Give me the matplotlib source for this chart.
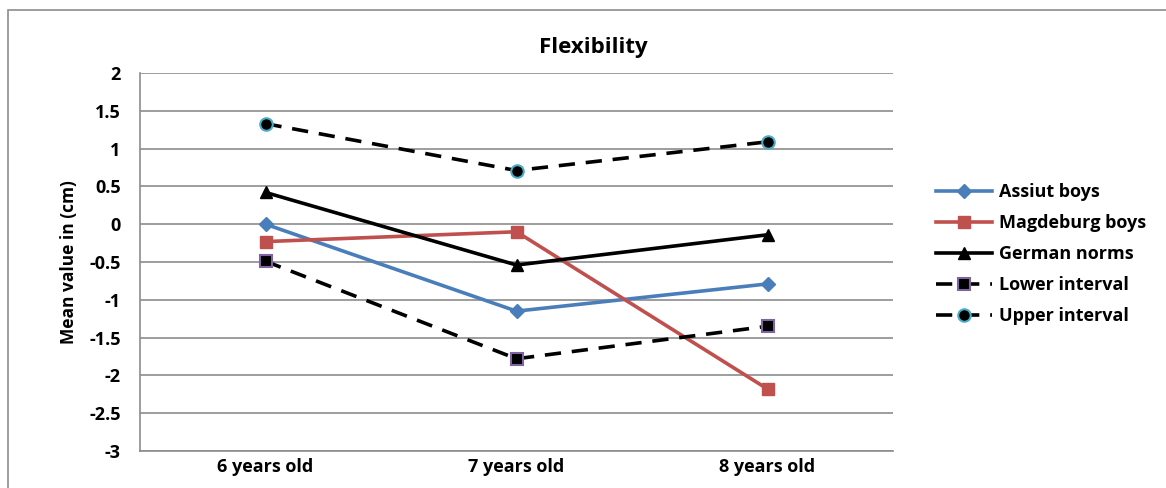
import matplotlib
matplotlib.use("Agg")
import matplotlib.pyplot as plt
from matplotlib.patches import Rectangle

plt.rcParams["font.family"] = ["Open Sans", "DejaVu Sans"]
plt.rcParams["font.weight"] = "bold"

# data
categories = ["6 years old", "7 years old", "8 years old"]
assiut_boys = [0.0, -1.15, -0.79]
magdeburg_boys = [-0.23, -0.10, -2.18]
german_norms = [0.42, -0.54, -0.14]
lower_interval = [-0.49, -1.78, -1.35]
upper_interval = [1.33, 0.71, 1.09]
y_ticks = [2, 1.5, 1, 0.5, 0, -0.5, -1, -1.5, -2, -2.5, -3]

fig = plt.figure(figsize=(11.66, 4.88), dpi=100)
ax = fig.add_axes([140 / 1166, 1 - 451 / 488, 753 / 1166, 378 / 488])

# outer chart border
fig.patches.append(Rectangle((8 / 1166, -0.05), 1.2, 1 - 10 / 488 + 0.05,
                             transform=fig.transFigure, fill=False,
                             edgecolor="#8c8c8c", linewidth=1.2))

x = list(range(len(categories)))
dash = (0, (4.5, 3))

ax.plot(x, assiut_boys, color="#4A7EBB", linewidth=2.6, marker="D",
        markersize=7, label="Assiut boys", zorder=3)
ax.plot(x, magdeburg_boys, color="#C0504D", linewidth=2.6, marker="s",
        markersize=9, label="Magdeburg boys", zorder=3)
ax.plot(x, german_norms, color="black", linewidth=2.6, marker="^",
        markersize=9, label="German norms", zorder=3)
ax.plot(x, lower_interval, color="black", linewidth=2.6, linestyle=dash,
        marker="s", markersize=9, markerfacecolor="black",
        markeredgecolor="#8064A2", markeredgewidth=1.5,
        label="Lower interval", zorder=3)
ax.plot(x, upper_interval, color="black", linewidth=2.6, linestyle=dash,
        marker="o", markersize=9, markerfacecolor="black",
        markeredgecolor="#4BACC6", markeredgewidth=1.5,
        label="Upper interval", zorder=3)

ax.set_xlim(-0.5, len(categories) - 0.5)
ax.set_ylim(-3, 2)
ax.set_yticks(y_ticks)
ax.set_yticklabels([f"{t:g}" for t in y_ticks])
ax.set_xticks(x)
ax.set_xticklabels(categories)
ax.tick_params(axis="both", length=0, labelsize=13, pad=5)
ax.tick_params(axis="y", pad=14)
ax.grid(axis="y", color="#8c8c8c", linewidth=1.2)
ax.set_axisbelow(True)
for side in ["top", "right"]:
    ax.spines[side].set_visible(False)
for side in ["left", "bottom"]:
    ax.spines[side].set_color("#8c8c8c")
    ax.spines[side].set_linewidth(1.2)

ax.set_ylabel("Mean value in (cm)", fontsize=12.5, fontweight="bold", labelpad=8)
fig.text(593 / 1166, 1 - 48 / 488, "Flexibility", fontsize=16,
         fontweight="bold", ha="center", va="center")

ax.legend(loc="center left", bbox_to_anchor=(1.035, 0.52), frameon=False,
          fontsize=13, handlelength=3.1, labelspacing=0.72, handletextpad=0.4)

fig.savefig("out.png", dpi=100)
